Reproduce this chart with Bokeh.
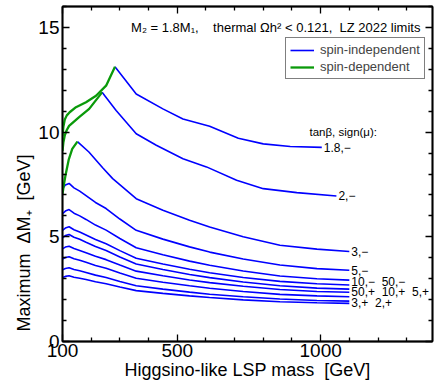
from bokeh.plotting import figure
from bokeh.models import FixedTicker, LinearAxis, Range1d, Title
from bokeh.core.properties import value
from bokeh.embed import file_html
from bokeh.resources import INLINE

# ---------------- data ----------------
# tanb=1.8, sign(mu)=-  (spin-dependent part, then spin-independent part)
x_18m_sd = [100, 103, 108, 115, 125, 147, 182, 217, 252, 283]
y_18m_sd = [9.8, 10.25, 10.6, 10.8, 10.95, 11.19, 11.43, 11.74, 12.22, 13.12]
x_18m_si = [283, 357, 450, 520, 613, 713, 800, 894, 1004]
y_18m_si = [13.12, 11.82, 11.11, 10.63, 10.28, 9.71, 9.44, 9.31, 9.27]

# tanb=2, -
x_2m_sd = [100, 103, 108, 115, 123, 158, 193, 238]
y_2m_sd = [9.1, 9.5, 9.85, 10.1, 10.3, 10.72, 11.11, 11.9]
x_2m_si = [238, 287, 357, 427, 520, 602, 707, 800, 917, 1055]
y_2m_si = [11.9, 11.03, 9.92, 9.37, 8.73, 8.34, 7.70, 7.30, 7.11, 6.95]

# tanb=3, -
x_3m_sd = [100, 105, 110, 122, 134, 152]
y_3m_sd = [7.05, 7.5, 7.9, 8.7, 9.2, 9.55]
x_3m_si = [152, 192, 240, 275, 357, 450, 543, 613, 730, 858, 987, 1100]
y_3m_si = [9.55, 9.05, 8.3, 7.78, 6.82, 6.27, 5.79, 5.47, 5.0, 4.6, 4.41, 4.3]

# lower curves, spin-independent only
x_lo = [100, 110, 123, 140, 160, 182, 215, 252, 300, 357, 450, 543, 613, 730, 858, 987, 1100]
y_5m = [7.30, 7.47, 7.55, 7.34, 7.18, 6.97, 6.64, 6.35, 5.85, 5.31, 4.89, 4.52, 4.27, 3.94, 3.65, 3.48, 3.40]
y_10m = [6.10, 6.23, 6.30, 6.13, 6.00, 5.83, 5.56, 5.32, 4.92, 4.48, 4.14, 3.84, 3.64, 3.37, 3.13, 3.00, 2.93]
y_50m = [5.31, 5.42, 5.48, 5.34, 5.23, 5.09, 4.87, 4.67, 4.34, 3.98, 3.70, 3.45, 3.28, 3.06, 2.87, 2.76, 2.70]
y_50p = [4.95, 5.06, 5.11, 4.98, 4.88, 4.74, 4.54, 4.35, 4.04, 3.70, 3.44, 3.20, 3.05, 2.84, 2.66, 2.55, 2.50]
y_10p = [4.42, 4.51, 4.55, 4.44, 4.35, 4.24, 4.07, 3.91, 3.65, 3.36, 3.14, 2.94, 2.81, 2.64, 2.48, 2.39, 2.35]
y_5p = [3.94, 4.01, 4.05, 3.95, 3.88, 3.78, 3.63, 3.50, 3.27, 3.02, 2.83, 2.66, 2.54, 2.39, 2.25, 2.18, 2.14]
y_3p = [3.42, 3.49, 3.52, 3.44, 3.38, 3.30, 3.17, 3.06, 2.87, 2.66, 2.50, 2.36, 2.26, 2.14, 2.03, 1.96, 1.93]
y_2p = [3.06, 3.11, 3.14, 3.07, 3.02, 2.96, 2.85, 2.76, 2.60, 2.43, 2.30, 2.18, 2.10, 1.99, 1.90, 1.85, 1.82]

# curve-end labels
end_labels = ["1.8,\u2212", "2,\u2212", "3,\u2212", "5,\u2212",
              "10,\u2212\u00a0 50,\u2212", "50,+\u00a0 10,+\u00a0 5,+", "3,+\u00a0 2,+"]
end_label_x = [1004, 1055, 1100, 1100, 1100, 1100, 1100]
end_label_y = [9.27, 6.95, 4.3, 3.4, 2.84, 2.36, 1.83]

x_ticks = [100, 500, 1000]
x_minor = [200, 300, 400, 600, 700, 800, 900, 1100, 1200, 1300]
y_ticks = [0, 5, 10, 15]
y_minor = [1, 2, 3, 4, 6, 7, 8, 9, 11, 12, 13, 14, 16]

title_text = "M\u2082 = 1.8M\u2081,\u00a0\u00a0\u00a0 thermal \u03a9h\u00b2 < 0.121,\u00a0\u00a0LZ 2022 limits"
legend_text = "tan\u03b2, sign(\u03bc):"
y_label = "Maximum\u00a0 \u0394M\u208a\u00a0 [GeV]"
x_label = "Higgsino-like LSP mass\u00a0 [GeV]"

# ---------------- style ----------------
BLUE = "#0000ff"
GREEN = "#0a9a0a"
FONT = "Liberation Sans"
W_SI = 1.6
W_SD = 2.3

p = figure(width=434, height=382, x_range=Range1d(100, 1390), y_range=Range1d(0, 16),
           output_backend="svg", toolbar_location=None,
           min_border_left=62, min_border_right=2, min_border_top=6, min_border_bottom=39)
p.background_fill_color = "white"
p.border_fill_color = "white"
p.outline_line_color = "black"
p.outline_line_width = 1.5
p.xgrid.visible = False
p.ygrid.visible = False

# lines
p.line(x_18m_si, y_18m_si, color=BLUE, line_width=W_SI, legend_label="spin-independent")
p.line(x_2m_si, y_2m_si, color=BLUE, line_width=W_SI)
p.line(x_3m_si, y_3m_si, color=BLUE, line_width=W_SI)
for ys in [y_5m, y_10m, y_50m, y_50p, y_10p, y_5p, y_3p, y_2p]:
    p.line(x_lo, ys, color=BLUE, line_width=W_SI)
p.line(x_18m_sd, y_18m_sd, color=GREEN, line_width=W_SD, legend_label="spin-dependent")
p.line(x_2m_sd, y_2m_sd, color=GREEN, line_width=W_SD)
p.line(x_3m_sd, y_3m_sd, color=GREEN, line_width=W_SD)

# texts
p.text(x=end_label_x, y=end_label_y, text=end_labels, text_font=value(FONT),
       text_font_size="12px", text_baseline="middle", text_align="left", x_offset=2,
       text_color="black")
p.text(x=[961], y=[10.0], text=[legend_text], text_font=value(FONT), text_font_size="11.5px",
       text_baseline="middle", text_align="left", text_color="black")
p.text(x=[1348], y=[15.0], text=[title_text], text_font=value(FONT), text_font_size="13px",
       text_baseline="middle", text_align="right", text_color="black")

# axes
def style_axis(ax, labels=True):
    ax.axis_line_width = 1.8
    ax.axis_line_color = "black"
    ax.major_tick_in = 7
    ax.major_tick_out = 0
    ax.minor_tick_in = 4
    ax.minor_tick_out = 0
    ax.major_tick_line_width = 1.3
    ax.minor_tick_line_width = 1.3
    ax.major_label_text_font = FONT
    if labels:
        ax.major_label_text_font_size = "19px"
        ax.major_label_text_color = "black"
    else:
        ax.major_label_text_font_size = "1px"
        ax.major_label_text_color = None
        ax.major_label_standoff = 0

xt = FixedTicker(ticks=x_ticks, minor_ticks=x_minor)
yt = FixedTicker(ticks=y_ticks, minor_ticks=y_minor)

xa = p.xaxis[0]
xa.ticker = xt
style_axis(xa)
xa.major_label_standoff = 2
xa.axis_label = x_label
xa.axis_label_text_font = FONT
xa.axis_label_text_font_size = "18px"
xa.axis_label_text_font_style = "normal"
xa.axis_label_text_color = "black"
xa.axis_label_standoff = 0

ya = p.yaxis[0]
ya.ticker = yt
style_axis(ya)
ya.major_label_standoff = 3

top = LinearAxis(ticker=xt)
style_axis(top, labels=False)
p.add_layout(top, "above")
right = LinearAxis(ticker=yt)
style_axis(right, labels=False)
p.add_layout(right, "right")

ytitle = Title(text=y_label, align="left", offset=10, standoff=4,
               text_font=FONT, text_font_size="18px", text_font_style="normal",
               text_color="black")
p.add_layout(ytitle, "left")

# legend
lg = p.legend[0]
lg.location = (223, 262)
lg.border_line_color = "black"
lg.border_line_width = 1
lg.background_fill_color = "white"
lg.background_fill_alpha = 1
lg.label_text_font = FONT
lg.label_text_font_size = "13px"
lg.glyph_width = 24
lg.glyph_height = 14
lg.label_height = 14
lg.label_standoff = 6
lg.spacing = 2
lg.padding = 4
lg.margin = 0

open("out.html", "w").write(file_html(p, INLINE))
